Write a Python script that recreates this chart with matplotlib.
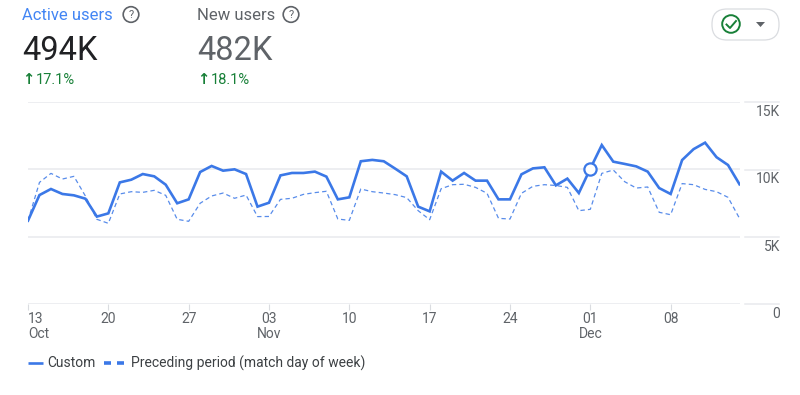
#!/usr/bin/env python3
import matplotlib
matplotlib.use("Agg")
import matplotlib.pyplot as plt
from matplotlib.patches import Circle, FancyBboxPatch
from matplotlib.lines import Line2D

plt.rcParams["font.family"] = ["Roboto", "DejaVu Sans"]

# daily values in thousands, 13 Oct to 14 Dec
custom = [6.19, 8.09, 8.54, 8.17, 8.07, 7.82, 6.49, 6.73, 9.03, 9.23, 9.65,
          9.48, 8.86, 7.48, 7.77, 9.80, 10.25, 9.90, 10.0, 9.65, 7.23, 7.52,
          9.55, 9.73, 9.73, 9.83, 9.46, 7.77, 7.92, 10.6, 10.7, 10.6, 10.05,
          9.48, 7.23, 6.88, 9.83, 9.16, 9.73, 9.16, 9.16, 7.77, 7.77, 9.63,
          10.07, 10.15, 8.81, 9.31, 8.24, 10.05, 11.8, 10.57, 10.4, 10.22,
          9.83, 8.61, 8.17, 10.69, 11.5, 11.98, 10.9, 10.32, 8.89]
preceding = [6.19, 9.03, 9.70, 9.28, 9.48, 8.02, 6.29, 5.99, 8.17, 8.34, 8.29,
             8.44, 8.07, 6.29, 6.14, 7.48, 8.02, 8.24, 7.85, 8.09, 6.49, 6.50,
             7.77, 7.85, 8.14, 8.27, 8.37, 6.31, 6.21, 8.54, 8.34, 8.24, 8.12,
             7.90, 6.93, 6.26, 8.56, 8.86, 8.89, 8.66, 8.22, 6.36, 6.31, 8.22,
             8.74, 8.86, 8.80, 8.66, 6.93, 7.03, 9.70, 9.95, 9.08, 8.61, 8.69,
             6.81, 6.63, 8.94, 8.86, 8.51, 8.34, 7.92, 6.36]

tick_days = [0, 7, 14, 21, 28, 35, 42, 49, 56]
tick_labels = ["13\nOct", "20", "27", "03\nNov", "10", "17", "24", "01\nDec", "08"]
y_ticks = [0, 5, 10, 15]
y_labels = ["0", "5K", "10K", "15K"]
highlight_day = 49

metric_names = ["Active users", "New users"]
metric_totals = ["494K", "482K"]
metric_changes = ["17.1%", "18.1%"]
legend_labels = ["Custom", "Preceding period (match day of week)"]

BLUE = "#3b78e7"
GREY = "#5f6368"
GRID = "#e8eaed"
GREEN = "#188038"
W, H = 800, 395

fig = plt.figure(figsize=(W / 100, H / 100), dpi=100)

# chart area, placed to line up with the reference
ax = fig.add_axes([28 / W, 1 - 304 / H, (739.5 - 28) / W, (304 - 102) / H])
ax.plot(custom, color=BLUE, lw=1.9, solid_joinstyle="miter", zorder=3)
ax.plot(preceding, color=BLUE, lw=0.9, ls=(0, (3.5, 2.5)), alpha=0.85, zorder=2)
ax.plot([highlight_day], [custom[highlight_day]], "o", ms=8.8, mfc="white",
        mec=BLUE, mew=1.6, zorder=4)
ax.set_xlim(0, len(custom) - 1)
ax.set_ylim(0, 15)
for side in ax.spines:
    ax.spines[side].set_visible(False)
ax.grid(axis="y", color=GRID, lw=1.1)
ax.set_axisbelow(True)

ax.set_xticks(tick_days)
ax.set_xticklabels(tick_labels, fontsize=10, color=GREY, linespacing=1.05)
ax.get_xticklabels()[0].set_ha("left")
ax.get_xticklabels()[0].set_multialignment("left")
ax.tick_params(axis="x", length=4, width=0.8, color="#dadce0", pad=2)
ax.set_yticks(y_ticks)
ax.tick_params(axis="y", length=0, labelleft=False)
ax.patch.set_alpha(0)

# y labels sit under their grid lines, right aligned past the plot edge
for val, lab in zip(y_ticks, y_labels):
    ax.annotate(lab, xy=(1, val), xycoords=ax.get_yaxis_transform(), xytext=(40.5, -10),
                textcoords="offset pixels", fontsize=10, color=GREY, ha="right", va="center")

# header, legend and button are laid out in pixels on a full figure overlay
ov = fig.add_axes([0, 0, 1, 1], zorder=5)
ov.set_xlim(0, W)
ov.set_ylim(H, 0)
ov.axis("off")
ov.patch.set_alpha(0)

# short grid pieces behind the y labels
for val_y in [102, 169.5, 237, 304]:
    ov.add_line(Line2D([745, 779], [val_y, val_y], color=GRID, lw=1.1))

metric_x = [22, 197]
name_colors = ["#4285f4", GREY]
total_colors = ["#202124", GREY]
help_x = [131, 291]
for i in range(2):
    ov.text(metric_x[i], 15, metric_names[i], fontsize=12, color=name_colors[i], va="center")
    ov.text(metric_x[i], 48, metric_totals[i], fontsize=23.5, color=total_colors[i], va="center_baseline")
    ov.add_patch(Circle((help_x[i], 14.5), 7.8, fc="none", ec=GREY, lw=1.2))
    ov.text(help_x[i], 14.8, "?", fontsize=8, color=GREY, ha="center", va="center")
    ov.text(metric_x[i] + 6, 79, "↑", fontsize=10.5, color=GREEN, ha="center", va="center",
            family="DejaVu Sans", fontweight="bold")
    ov.text(metric_x[i] + 14, 79.5, metric_changes[i], fontsize=10.5, color=GREEN, va="center")

# legend
ov.add_line(Line2D([28, 43], [363, 363], color=BLUE, lw=1.9, solid_capstyle="butt"))
ov.text(47, 363, legend_labels[0], fontsize=10, color="#3c4043", va="center")
ov.add_line(Line2D([104, 111], [363, 363], color=BLUE, lw=2.6, solid_capstyle="butt"))
ov.add_line(Line2D([117, 124], [363, 363], color=BLUE, lw=2.6, solid_capstyle="butt"))
ov.text(131, 363, legend_labels[1], fontsize=10, color="#3c4043", va="center")

# status button
ov.add_patch(FancyBboxPatch((712, 9), 67, 31, boxstyle="round,pad=0,rounding_size=15",
                            fc="white", ec="#dadce0", lw=0.9))
ov.add_patch(Circle((731, 24), 8.8, fc="none", ec=GREEN, lw=1.4))
ov.add_line(Line2D([726.5, 730, 736], [24.5, 28, 21], color=GREEN, lw=1.4))
ov.fill([756, 765, 760.5], [22, 22, 27], color=GREY, lw=0)

fig.savefig("out.png", dpi=100)
